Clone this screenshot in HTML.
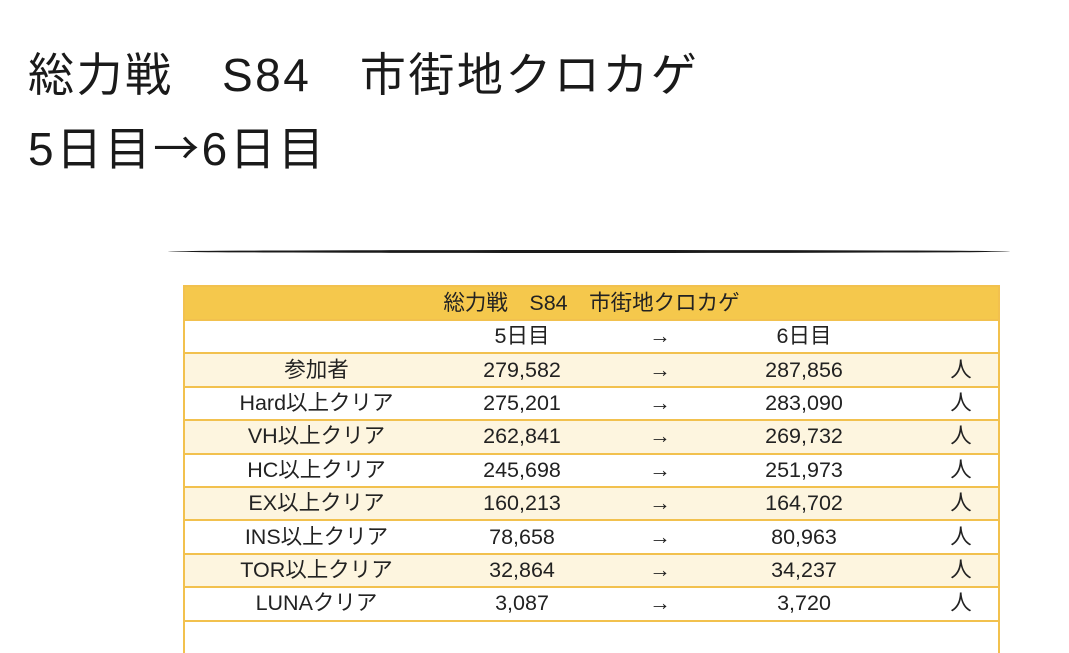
<!DOCTYPE html>
<html><head><meta charset="utf-8"><style>
body{margin:0;width:1069px;height:625px;background:#fff;overflow:hidden;position:relative;font-family:"Liberation Sans","Noto Sans CJK JP",sans-serif;color:#1a1a1a}
.t{position:absolute;left:28px;font-size:46px;line-height:50px;white-space:nowrap;letter-spacing:2.5px}
.a{font-family:"Noto Sans CJK JP",sans-serif}
.line{position:absolute;left:168px;top:250px;width:842px;height:3px;background:#1a1a1a;border-radius:50%/1.5px}
table{position:absolute;left:183px;top:285px;width:817px;border-collapse:collapse;font-size:21.5px;color:#222}
td{border-top:2px solid #f2c14e;height:31.4px;padding:0;text-align:center;line-height:31px}
table{border-left:2px solid #f2c14e;border-right:2px solid #f2c14e}
tr.h td{background:#f5c84c;height:32px}
tr.c td{background:#fdf5df}
tr.w td{background:#fff}
</style></head><body>
<div class="t" style="top:50px">総力戦　S84　市街地クロカゲ</div>
<div class="t" style="top:121px">5日目<span class="a">→</span>6日目</div>
<div class="line"></div>
<table>
<colgroup><col style="width:264px"><col style="width:148px"><col style="width:128px"><col style="width:160px"><col style="width:40px"><col></colgroup>
<tr class="h"><td colspan="6">総力戦　S84　市街地クロカゲ</td></tr>
<tr class="w"><td></td><td>5日目</td><td>→</td><td>6日目</td><td></td><td></td></tr>
<tr class="c"><td>参加者</td><td>279,582</td><td>→</td><td>287,856</td><td></td><td>人</td></tr>
<tr class="w"><td>Hard以上クリア</td><td>275,201</td><td>→</td><td>283,090</td><td></td><td>人</td></tr>
<tr class="c"><td>VH以上クリア</td><td>262,841</td><td>→</td><td>269,732</td><td></td><td>人</td></tr>
<tr class="w"><td>HC以上クリア</td><td>245,698</td><td>→</td><td>251,973</td><td></td><td>人</td></tr>
<tr class="c"><td>EX以上クリア</td><td>160,213</td><td>→</td><td>164,702</td><td></td><td>人</td></tr>
<tr class="w"><td>INS以上クリア</td><td>78,658</td><td>→</td><td>80,963</td><td></td><td>人</td></tr>
<tr class="c"><td>TOR以上クリア</td><td>32,864</td><td>→</td><td>34,237</td><td></td><td>人</td></tr>
<tr class="w"><td>LUNAクリア</td><td>3,087</td><td>→</td><td>3,720</td><td></td><td>人</td></tr>
<tr class="w"><td style="height:20px"></td><td></td><td></td><td></td><td></td><td></td></tr>
</table>
</body></html>
